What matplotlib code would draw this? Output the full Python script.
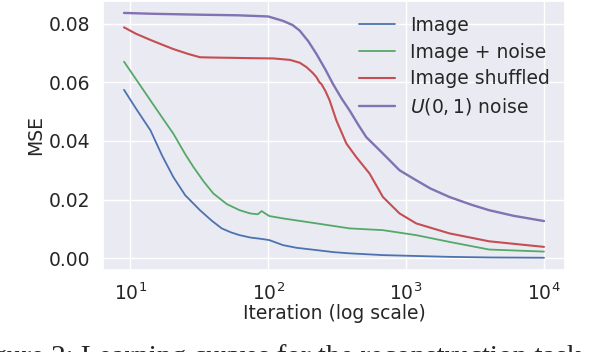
import matplotlib
matplotlib.use('Agg')
import matplotlib.pyplot as plt
import seaborn as sns

# Values (iteration, MSE)
img_it = [9, 11, 14, 17, 20.5, 25, 32, 39, 46, 54, 62, 74, 90, 102, 128, 160, 224, 300, 389, 679, 1183, 2061, 4000, 10000]
img_mse = [0.0574, 0.0510, 0.0436, 0.0350, 0.0277, 0.0215, 0.0164, 0.0128, 0.0102, 0.0088, 0.0079, 0.0071, 0.0066, 0.0062, 0.0045, 0.0036, 0.0028, 0.0021, 0.0017, 0.0011, 0.0008, 0.0005, 0.0003, 0.0002]

noise_it = [9, 11, 14, 17, 20.5, 25, 28.7, 34, 40, 50, 62, 74, 84, 89.6, 95, 102, 128, 224, 389, 679, 1183, 2061, 4000, 10000]
noise_mse = [0.0670, 0.0610, 0.0538, 0.0480, 0.0425, 0.0355, 0.0311, 0.0262, 0.0221, 0.0185, 0.0164, 0.0153, 0.0150, 0.0161, 0.0153, 0.0144, 0.0136, 0.0119, 0.0102, 0.0096, 0.0079, 0.0056, 0.0030, 0.0023]

shuf_it = [9, 11, 14, 17, 20.5, 26, 32, 40, 56, 74, 109, 144, 170, 190, 210, 224, 235, 243, 260, 279, 312, 369, 435, 543, 679, 896, 1183, 2061, 4000, 10000]
shuf_mse = [0.0787, 0.0765, 0.0744, 0.0728, 0.0713, 0.0697, 0.0685, 0.0684, 0.0683, 0.0682, 0.0681, 0.0676, 0.0666, 0.0651, 0.0632, 0.0617, 0.0600, 0.0594, 0.0570, 0.0538, 0.0470, 0.0391, 0.0345, 0.0289, 0.0209, 0.0153, 0.0119, 0.0085, 0.0058, 0.0039]

unif_it = [9, 15, 32, 60, 100, 128, 150, 169, 195, 224, 260, 295, 340, 389, 450, 514, 600, 679, 896, 1183, 1500, 2061, 3000, 4000, 6000, 10000]
unif_mse = [0.0836, 0.0833, 0.0830, 0.0828, 0.0824, 0.0809, 0.0795, 0.0776, 0.0740, 0.0696, 0.0643, 0.0594, 0.0545, 0.0504, 0.0455, 0.0413, 0.0382, 0.0357, 0.0300, 0.0266, 0.0238, 0.0209, 0.0182, 0.0164, 0.0145, 0.0127]

labels = ['Image', 'Image + noise', 'Image shuffled', r'$U(0,1)$ noise']

sns.set_theme(style='darkgrid')
plt.rcParams['font.family'] = ['DejaVu Sans']
plt.rcParams['mathtext.fontset'] = 'dejavusans'

fig = plt.figure(figsize=(5.9, 3.52), dpi=100)
ax = fig.add_axes([0.1746, 0.233, 0.783, 0.765])

pal = sns.color_palette('deep')
ax.plot(img_it, img_mse, color=pal[0], lw=1.3, label=labels[0])
ax.plot(noise_it, noise_mse, color=pal[2], lw=1.3, label=labels[1])
ax.plot(shuf_it, shuf_mse, color=pal[3], lw=1.5, label=labels[2])
ax.plot(unif_it, unif_mse, color=pal[4], lw=1.7, label=labels[3])

ax.set_xscale('log')
ax.set_yticks([0.0, 0.02, 0.04, 0.06, 0.08])
ax.tick_params(labelsize=13.5, pad=3)
ax.set_xlabel('Iteration (log scale)', fontsize=13.5, labelpad=0)
ax.set_ylabel('MSE', fontsize=13.5, labelpad=3)
ax.legend(loc='upper right', fontsize=13.5, frameon=False,
          handlelength=1.9, labelspacing=0.42, borderaxespad=0.4)

# caption of the paper figure, cut off at the bottom edge
fig.text(-0.054, -0.037, 'Figure 2: Learning curves for the reconstruction task',
         family=['Liberation Serif'], fontsize=21, va='baseline', ha='left')

fig.savefig('out.png', dpi=100)
